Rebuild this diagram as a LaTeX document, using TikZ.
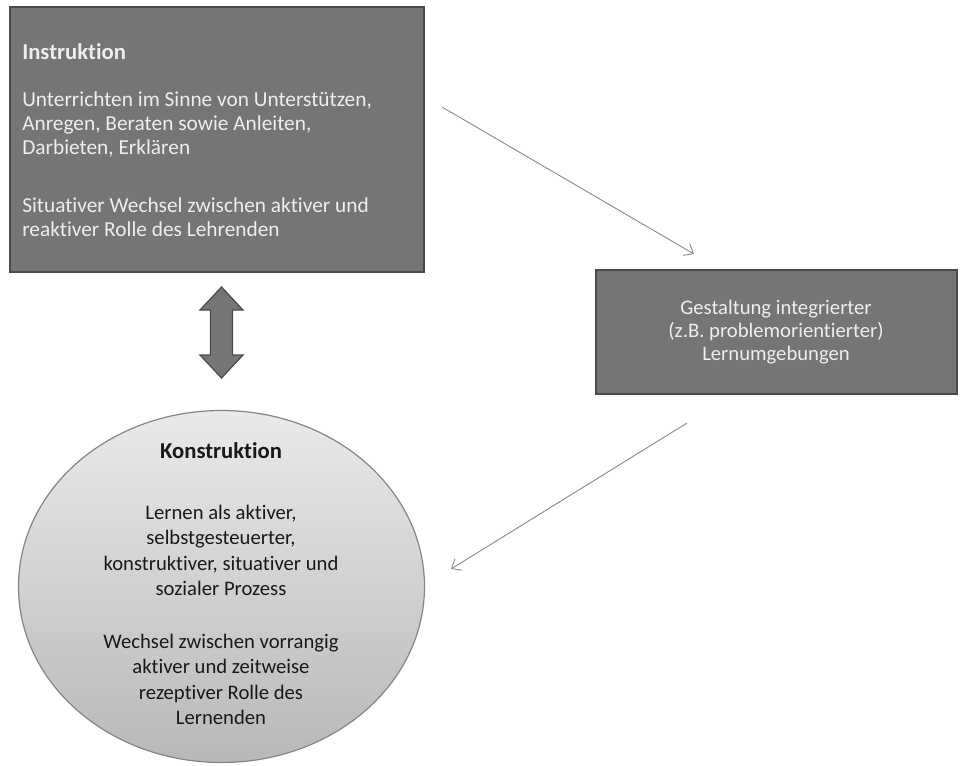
\documentclass[tikz,border=0pt]{standalone}
\usepackage{fontspec}
\setmainfont{Carlito}[Ligatures={NoCommon}]
\usetikzlibrary{arrows.meta,shapes.geometric}
\definecolor{boxfill}{HTML}{757575}
\definecolor{boxline}{HTML}{4A4A4A}
\definecolor{boxtext}{HTML}{EEEEEE}
\definecolor{ellline}{HTML}{858585}
\definecolor{elltop}{HTML}{EAEAEA}
\definecolor{ellbot}{HTML}{B8B8B8}
\definecolor{arrline}{HTML}{8C8C8C}
\tikzset{
  darkbox/.style={draw=boxline, line width=1.2pt, fill=boxfill, rectangle, inner sep=0pt},
  boxtxt/.style={inner sep=0pt, text=boxtext},
  elltxt/.style={inner sep=0pt, text=black!90, align=center, anchor=base},
  thinarrow/.style={draw=arrline, line width=0.7pt, -{Straight Barb[length=6pt,width=10pt]}},
}
\begin{document}
\begin{tikzpicture}[x=0.75pt,y=-0.75pt]
\useasboundingbox (0,0) rectangle (960,765);
% Instruktion box (multi-line texts are anchored at the baseline of their last line)
\node[darkbox, minimum width=414*0.75pt, minimum height=265*0.75pt] (instr) at (217,139.5) {};
\node[boxtxt, anchor=base west, font=\bfseries\fontsize{17}{18}\selectfont] (instrtitle) at (22,59) {Instruktion};
\node[boxtxt, anchor=base west, align=left, font=\fontsize{16}{18}\selectfont] (instrpa) at (22,154)
  {Unterrichten im Sinne von Unterstützen,\\
   Anregen, Beraten sowie Anleiten,\\
   Darbieten, Erklären};
\node[boxtxt, anchor=base west, align=left, font=\fontsize{16}{18}\selectfont] (instrpb) at (22,236)
  {Situativer Wechsel zwischen aktiver und\\
   reaktiver Rolle des Lehrenden};
% Gestaltung box
\node[darkbox, minimum width=361*0.75pt, minimum height=124*0.75pt] (gest) at (776.5,332) {};
\node[boxtxt, anchor=base, align=center, font=\fontsize{15.5}{17.25}\selectfont] (gesttext) at (776,360)
  {Gestaltung integrierter\\(z.B. problemorientierter)\\Lernumgebungen};
% Konstruktion ellipse
\node[ellipse, draw=ellline, line width=0.9pt, top color=elltop, bottom color=ellbot,
      minimum width=406*0.75pt, minimum height=352*0.75pt, inner sep=0pt] (konst) at (221.5,586.5) {};
\node[elltxt, font=\bfseries\fontsize{17}{19}\selectfont] (konsttitle) at (221,458) {Konstruktion};
\node[elltxt, font=\fontsize{15.5}{19.1}\selectfont] (konstpa) at (221,595.5)
  {Lernen als aktiver,\\
   selbstgesteuerter,\\
   konstruktiver, situativer und\\
   sozialer Prozess};
\node[elltxt, font=\fontsize{15.5}{19.1}\selectfont] (konstpb) at (221,724.5)
  {Wechsel zwischen vorrangig\\
   aktiver und zeitweise\\
   rezeptiver Rolle des\\
   Lernenden};
% double-headed block arrow between Instruktion and Konstruktion
\coordinate (dtop) at (221.5,287);
\coordinate (dbot) at (221.5,378);
\draw[draw=boxline, line width=0.9pt, fill=boxfill, line join=miter]
  (dtop) -- ++(21.5,23) -- ++(-10.5,0) -- ++(0,45) -- ++(10.5,0) -- (dbot)
  -- ++(-21.5,-23) -- ++(10.5,0) -- ++(0,-45) -- ++(-10.5,0) -- cycle;
% thin arrows
\coordinate (a1s) at (442,107);
\coordinate (a1e) at (694,254);
\coordinate (a2s) at (687,423);
\coordinate (a2e) at (451,569);
\draw[thinarrow] (a1s) -- (a1e);
\draw[thinarrow] (a2s) -- (a2e);
\end{tikzpicture}
\end{document}
